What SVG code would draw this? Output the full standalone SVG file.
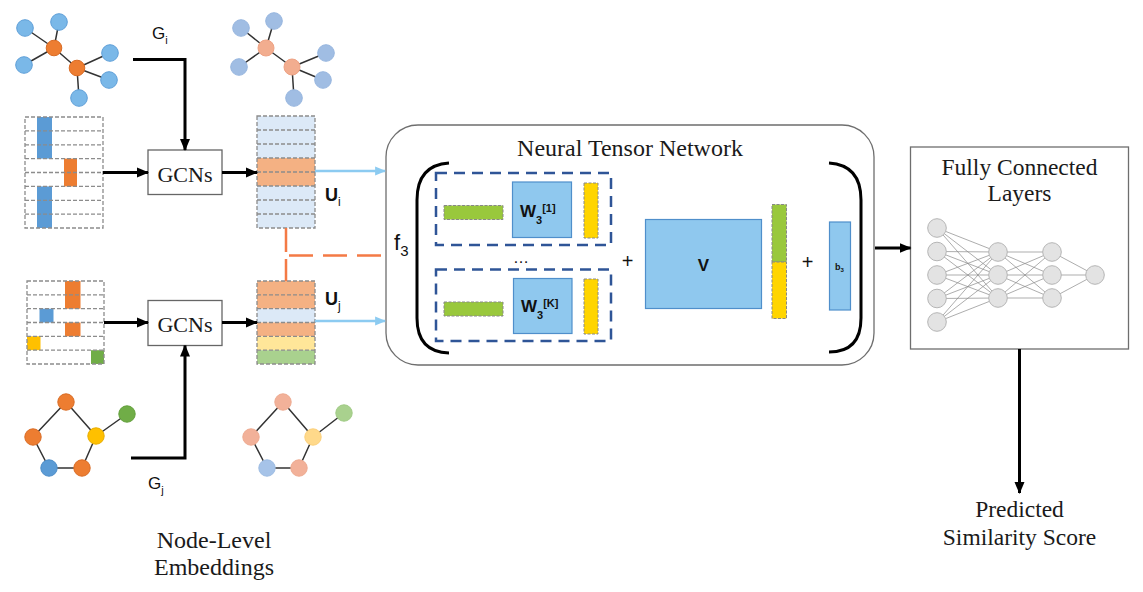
<svg xmlns="http://www.w3.org/2000/svg" width="1143" height="592" viewBox="0 0 1143 592">
<style>
.serif{font-family:"Liberation Serif","Times New Roman",serif;fill:#1a1a1a}
.sans{font-family:"Liberation Sans",Arial,sans-serif;fill:#111}
.bold{font-weight:bold}
.edge{stroke:#333;stroke-width:1.5}
.grid{fill:none;stroke:#8c8c8c;stroke-width:1.3;stroke-dasharray:4 2}
.blk{fill:none;stroke:#000;stroke-width:3}
.lb{fill:none;stroke:#8ccbf1;stroke-width:2.5}
.box{fill:#fff;stroke:#666;stroke-width:1.3}
.nb{fill:#7ab8e8;stroke:#5e9fd8;stroke-width:1}
.no{fill:#ed7d31;stroke:#d96c25;stroke-width:1}
.nlb{fill:#a0bde3;stroke:#97b6df;stroke-width:1}
.nlo{fill:#f2ad8f;stroke:#eea284;stroke-width:1}
.wbox{fill:#8fc8ee;stroke:#4f8fcb;stroke-width:1.2}
.gbar{fill:#99c83c;stroke:#888;stroke-width:1;stroke-dasharray:3 1.5}
.ybar{fill:#ffd500;stroke:#888;stroke-width:1;stroke-dasharray:3 1.5}
.dbox{fill:none;stroke:#2f5597;stroke-width:2.5;stroke-dasharray:11 7}
.fcn{fill:#e3e3e3;stroke:#b5b5b5;stroke-width:1}
.fce{stroke:#8a8a8a;stroke-width:0.7}
</style>
<defs>
<marker id="ah" markerUnits="userSpaceOnUse" markerWidth="12" markerHeight="12" viewBox="0 0 12 12" refX="11" refY="6" orient="auto">
<path d="M0,1 L12,6 L0,11 z" fill="#000"/>
</marker>
<marker id="ahb" markerUnits="userSpaceOnUse" markerWidth="11" markerHeight="11" viewBox="0 0 10 10" refX="9" refY="5" orient="auto">
<path d="M0,1 L10,5 L0,9 z" fill="#8ccbf1"/>
</marker>
</defs>
<rect x="0" y="0" width="1143" height="592" fill="#fff"/>

<!-- Top-left input graph G_i -->
<g id="graph-gi">
<path class="edge" d="M25,28 L54,48 M59,22 L54,48 M24,65 L54,48 M54,48 L77,68 M77,68 L110,53 M77,68 L109,80 M77,68 L79,98"/>
<circle class="nb" cx="25" cy="28" r="8.3"/>
<circle class="nb" cx="59" cy="22" r="8.3"/>
<circle class="nb" cx="24" cy="65" r="8.3"/>
<circle class="nb" cx="110" cy="53" r="8.3"/>
<circle class="nb" cx="109" cy="80" r="8.3"/>
<circle class="nb" cx="79" cy="98" r="8.3"/>
<circle class="no" cx="54" cy="48" r="7.8"/>
<circle class="no" cx="77" cy="68" r="7.8"/>
</g>

<!-- Top-right embedded graph -->
<g id="graph-gi-emb">
<path class="edge" d="M241,28 L266,48 M274,21 L266,48 M239,67 L266,48 M266,48 L292,67 M292,67 L326,53 M292,67 L323,80 M292,67 L294,98"/>
<circle class="nlb" cx="241" cy="28" r="8.3"/>
<circle class="nlb" cx="274" cy="21" r="8.3"/>
<circle class="nlb" cx="239" cy="67" r="8.3"/>
<circle class="nlb" cx="326" cy="53" r="8.3"/>
<circle class="nlb" cx="323" cy="80" r="8.3"/>
<circle class="nlb" cx="294" cy="98" r="8.3"/>
<circle class="nlo" cx="266" cy="48" r="8"/>
<circle class="nlo" cx="292" cy="67" r="8"/>
</g>

<!-- Bottom-left input graph G_j -->
<g id="graph-gj">
<path class="edge" d="M66,402 L33,437 M66,402 L96,436 M33,437 L49,468 M49,468 L82,468 M82,468 L96,436 M96,436 L127,414"/>
<circle cx="66" cy="402" r="8.2" fill="#ed7d31" stroke="#d96c25"/>
<circle cx="33" cy="437" r="8.2" fill="#ed7d31" stroke="#d96c25"/>
<circle cx="96" cy="436" r="8.2" fill="#ffc000" stroke="#e8ad00"/>
<circle cx="127" cy="414" r="8.2" fill="#70ad47" stroke="#62a03b"/>
<circle cx="49" cy="468" r="8.2" fill="#5b9bd5" stroke="#4d8dc8"/>
<circle cx="82" cy="468" r="8.2" fill="#ed7d31" stroke="#d96c25"/>
</g>

<!-- Bottom-right embedded graph -->
<g id="graph-gj-emb">
<path class="edge" d="M283,402 L251,437 M283,402 L313,437 M251,437 L267,468 M267,468 L299,468 M299,468 L313,437 M313,437 L344,413"/>
<circle cx="283" cy="402" r="8.2" fill="#f2b199" stroke="#eeaa90"/>
<circle cx="251" cy="437" r="8.2" fill="#f2b199" stroke="#eeaa90"/>
<circle cx="313" cy="437" r="8.2" fill="#ffd98a" stroke="#fcd07a"/>
<circle cx="344" cy="413" r="8.2" fill="#a9d18e" stroke="#a0cb85"/>
<circle cx="267" cy="468" r="8.2" fill="#a6c3e8" stroke="#9dbce3"/>
<circle cx="299" cy="468" r="8.2" fill="#f2b199" stroke="#eeaa90"/>
</g>

<!-- Feature matrix i -->
<g id="features-i">
<rect x="37" y="117" width="15" height="41.6" fill="#5b9bd5"/>
<rect x="64" y="158.6" width="13" height="27.8" fill="#ed7d31"/>
<rect x="37" y="186.4" width="15" height="41.6" fill="#5b9bd5"/>
<rect class="grid" x="25" y="117" width="78" height="111"/>
<path class="grid" d="M25,130.9 H103 M25,144.8 H103 M25,158.6 H103 M25,172.5 H103 M25,186.4 H103 M25,200.3 H103 M25,214.1 H103"/>
</g>

<!-- Feature matrix j -->
<g id="features-j">
<rect x="65" y="281" width="15.5" height="27.7" fill="#ed7d31"/>
<rect x="39.5" y="308.7" width="14" height="13.8" fill="#5b9bd5"/>
<rect x="65" y="322.5" width="15.5" height="13.8" fill="#ed7d31"/>
<rect x="27" y="336.3" width="13.5" height="13.8" fill="#ffc000"/>
<rect x="91" y="350.2" width="13" height="13.8" fill="#70ad47"/>
<rect class="grid" x="27" y="281" width="77" height="83"/>
<path class="grid" d="M27,294.8 H104 M27,308.7 H104 M27,322.5 H104 M27,336.3 H104 M27,350.2 H104"/>
</g>

<!-- GCN boxes -->
<g id="gcn-i">
<rect class="box" x="148" y="150" width="74" height="44.5"/>
<text class="serif" x="185" y="181.5" font-size="22" text-anchor="middle">GCNs</text>
</g>
<g id="gcn-j">
<rect class="box" x="148" y="300.5" width="74" height="45"/>
<text class="serif" x="185" y="331.5" font-size="22" text-anchor="middle">GCNs</text>
</g>

<!-- Embedding column i -->
<g id="emb-i">
<rect x="257" y="116" width="58" height="112" fill="#dce9f7"/>
<rect x="257" y="158" width="58" height="28" fill="#f4b183"/>
<rect class="grid" x="257" y="116" width="58" height="112"/>
<path class="grid" d="M257,130 H315 M257,144 H315 M257,158 H315 M257,172 H315 M257,186 H315 M257,200 H315 M257,214 H315"/>
<text class="sans bold" x="325" y="200.5" font-size="18">U<tspan font-size="12" font-weight="normal" dy="5">i</tspan></text>
</g>

<!-- Embedding column j -->
<g id="emb-j">
<rect x="257" y="281" width="58" height="27.7" fill="#f4b183"/>
<rect x="257" y="308.7" width="58" height="13.8" fill="#dce9f7"/>
<rect x="257" y="322.5" width="58" height="13.8" fill="#f4b183"/>
<rect x="257" y="336.3" width="58" height="13.8" fill="#ffe699"/>
<rect x="257" y="350.2" width="58" height="13.8" fill="#a9d18e"/>
<rect class="grid" x="257" y="281" width="58" height="83"/>
<path class="grid" d="M257,294.8 H315 M257,308.7 H315 M257,322.5 H315 M257,336.3 H315 M257,350.2 H315"/>
<text class="sans bold" x="325" y="305" font-size="18">U<tspan font-size="12" font-weight="normal" dy="5">j</tspan></text>
</g>

<!-- Labels G_i, G_j -->
<g id="label-gi">
<text class="sans" x="152" y="38.5" font-size="17">G<tspan font-size="11" dy="5">i</tspan></text>
</g>
<g id="label-gj">
<text class="sans" x="148" y="488.5" font-size="17">G<tspan font-size="11" dy="5">j</tspan></text>
</g>

<!-- Neural Tensor Network -->
<g id="ntn">
<rect x="386" y="125" width="488" height="240" rx="32" ry="32" fill="#fff" stroke="#6e6e6e" stroke-width="1.3"/>
<text class="serif" x="630" y="156" font-size="24" text-anchor="middle">Neural Tensor Network</text>
<text class="sans" x="394" y="250" font-size="22">f<tspan font-size="15" dy="6">3</tspan></text>
<path d="M449,163 Q417,165 417,200 L417,318 Q417,352 449,353" fill="none" stroke="#000" stroke-width="3"/>
<path d="M829,163 Q861,165 861,200 L861,318 Q861,352 829,352" fill="none" stroke="#000" stroke-width="3"/>
<rect class="dbox" x="436" y="173" width="175" height="72"/>
<rect class="gbar" x="444" y="205.5" width="59" height="14"/>
<rect class="wbox" x="512.5" y="182" width="59" height="55.5"/>
<rect class="ybar" x="584" y="183" width="14" height="55"/>
<text class="sans bold" x="520" y="216.5" font-size="17">W<tspan font-size="11" dy="7">3</tspan><tspan font-size="11" dy="-12">[1]</tspan></text>
<text class="sans" x="521" y="263" font-size="16" text-anchor="middle">…</text>
<rect class="dbox" x="436" y="269.5" width="175" height="71.5"/>
<rect class="gbar" x="444" y="302" width="59" height="14"/>
<rect class="wbox" x="513.5" y="278.5" width="58.5" height="55"/>
<rect class="ybar" x="584" y="279" width="14" height="55"/>
<text class="sans bold" x="521" y="311.5" font-size="17">W<tspan font-size="11" dy="7">3</tspan><tspan font-size="11" dy="-12">[K]</tspan></text>
<text class="sans" x="627.5" y="268" font-size="20" text-anchor="middle">+</text>
<rect class="wbox" x="645.5" y="219.5" width="116" height="89"/>
<text class="sans bold" x="703.5" y="271" font-size="17" text-anchor="middle">V</text>
<rect class="gbar" x="772" y="204.5" width="14.5" height="57.5"/>
<rect class="ybar" x="772" y="262" width="14.5" height="56.5"/>
<text class="sans" x="807.5" y="269" font-size="20" text-anchor="middle">+</text>
<rect class="wbox" x="829.5" y="222" width="21" height="88"/>
<text class="sans bold" x="835" y="269.5" font-size="9">b<tspan font-size="6" dy="2">3</tspan></text>
</g>

<!-- Fully Connected Layers -->
<g id="fc">
<rect x="910.5" y="147" width="218" height="202" fill="#fff" stroke="#6e6e6e" stroke-width="1.3"/>
<text class="serif" x="1019.5" y="175" font-size="23.5" text-anchor="middle">Fully Connected</text>
<text class="serif" x="1019.5" y="201" font-size="23.5" text-anchor="middle">Layers</text>
<g id="fc-edges">
<path class="fce" d="M937,228 L998,252 M937,228 L998,275 M937,228 L998,298 M937,251.5 L998,252 M937,251.5 L998,275 M937,251.5 L998,298 M937,275 L998,252 M937,275 L998,275 M937,275 L998,298 M937,298.5 L998,252 M937,298.5 L998,275 M937,298.5 L998,298 M937,322 L998,252 M937,322 L998,275 M937,322 L998,298"/>
<path class="fce" d="M998,252 L1052,252 M998,252 L1052,275 M998,252 L1052,298 M998,275 L1052,252 M998,275 L1052,275 M998,275 L1052,298 M998,298 L1052,252 M998,298 L1052,275 M998,298 L1052,298"/>
<path class="fce" d="M1052,252 L1095,275 M1052,275 L1095,275 M1052,298 L1095,275"/>
</g>
<circle class="fcn" cx="937" cy="228" r="9.3"/>
<circle class="fcn" cx="937" cy="251.5" r="9.3"/>
<circle class="fcn" cx="937" cy="275" r="9.3"/>
<circle class="fcn" cx="937" cy="298.5" r="9.3"/>
<circle class="fcn" cx="937" cy="322" r="9.3"/>
<circle class="fcn" cx="998" cy="252" r="9.3"/>
<circle class="fcn" cx="998" cy="275" r="9.3"/>
<circle class="fcn" cx="998" cy="298" r="9.3"/>
<circle class="fcn" cx="1052" cy="252" r="9.3"/>
<circle class="fcn" cx="1052" cy="275" r="9.3"/>
<circle class="fcn" cx="1052" cy="298" r="9.3"/>
<circle class="fcn" cx="1095" cy="275" r="9.3"/>
</g>

<!-- Output label -->
<g id="score">
<text class="serif" x="1019.5" y="517" font-size="23.5" text-anchor="middle">Predicted</text>
<text class="serif" x="1019.5" y="545" font-size="23.5" text-anchor="middle">Similarity Score</text>
</g>

<g id="node-level-label">
<text class="serif" x="214" y="548" font-size="24" text-anchor="middle">Node-Level</text>
<text class="serif" x="214" y="575" font-size="24" text-anchor="middle">Embeddings</text>
</g>

<!-- Connectors -->
<g id="connectors">
<path class="blk" d="M103,172.5 H148" marker-end="url(#ah)"/>
<path class="blk" d="M222,172.5 H257" marker-end="url(#ah)"/>
<path class="blk" d="M133,59.5 H185 V150" marker-end="url(#ah)"/>
<path class="blk" d="M104,322.5 H148" marker-end="url(#ah)"/>
<path class="blk" d="M222,322.5 H257" marker-end="url(#ah)"/>
<path class="blk" d="M131,458 H185 V345.5" marker-end="url(#ah)"/>
<path class="lb" d="M315,171 H385" marker-end="url(#ahb)"/>
<path class="lb" d="M315,321 H385" marker-end="url(#ahb)"/>
<path d="M286,228 V252 M286,259 V281" fill="none" stroke="#f47a45" stroke-width="2.5"/>
<path d="M289,255.5 H385" fill="none" stroke="#f47a45" stroke-width="2.5" stroke-dasharray="24 10"/>
<path class="blk" d="M875,248 H910.5" marker-end="url(#ah)"/>
<path class="blk" d="M1019.5,349 V493" marker-end="url(#ah)"/>
</g>
</svg>
